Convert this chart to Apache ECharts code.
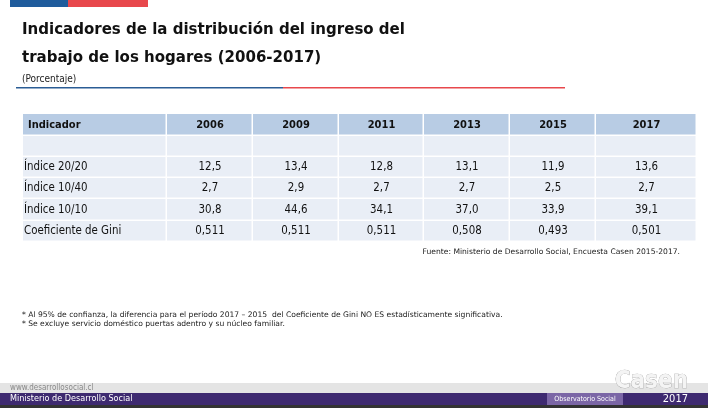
<!DOCTYPE html>
<html><head><meta charset="utf-8">
<script src="https://cdn.jsdelivr.net/npm/echarts@6/dist/echarts.min.js"></script>
<style>html,body{margin:0;padding:0;background:#fff}#c{width:708px;height:408px}</style>
</head><body><div id="c"></div>
<script>
var years = ['2006', '2009', '2011', '2013', '2015', '2017'];
var indicators = ['Índice 20/20', 'Índice 10/40', 'Índice 10/10', 'Coeficiente de Gini'];
var idx2020 = ['12,5', '13,4', '12,8', '13,1', '11,9', '13,6'];
var idx1040 = ['2,7', '2,9', '2,7', '2,7', '2,5', '2,7'];
var idx1010 = ['30,8', '44,6', '34,1', '37,0', '33,9', '39,1'];
var gini = ['0,511', '0,511', '0,511', '0,508', '0,493', '0,501'];
var rows = [idx2020, idx1040, idx1010, gini];

var chart = echarts.init(document.getElementById('c'));
var F = 'DejaVu Sans';
var FC = '"DejaVu Sans Condensed", "DejaVu Sans"';
var colX = [23, 167, 253, 339, 424, 510, 596, 697];
var g = [];

// top bars
g.push({type: 'rect', shape: {x: 10, y: 0, width: 58, height: 7}, style: {fill: '#1f5c9c'}});
g.push({type: 'rect', shape: {x: 68, y: 0, width: 80, height: 7}, style: {fill: '#e8484c'}});
g.push({type: 'text', left: 22, top: 21, style: {text: 'Indicadores de la distribución del ingreso del', font: 'bold 16.7px ' + FC, fill: '#111'}});
g.push({type: 'text', left: 22, top: 49, style: {text: 'trabajo de los hogares (2006-2017)', font: 'bold 16.7px ' + FC, fill: '#111'}});
g.push({type: 'text', left: 22, top: 74, style: {text: '(Porcentaje)', font: '10px ' + FC, fill: '#222'}});
g.push({type: 'rect', shape: {x: 16, y: 87, width: 267, height: 1.5}, style: {fill: '#2b5d95'}});
g.push({type: 'rect', shape: {x: 283, y: 87, width: 282, height: 1.5}, style: {fill: '#e8484c'}});

// table
function cell(x, y, w, h, fill) {
  g.push({type: 'rect', shape: {x: x, y: y, width: w - 1.5, height: h - 1.5}, style: {fill: fill}});
}
var rowY = [114, 136, 157, 178, 199, 221, 242];
for (var r = 0; r < 6; r++) {
  for (var c = 0; c < 7; c++) {
    cell(colX[c], rowY[r], colX[c + 1] - colX[c], rowY[r + 1] - rowY[r], r === 0 ? '#b8cce4' : '#e9eef6');
  }
}
g.push({type: 'text', x: 28, y: 125, style: {text: 'Indicador', font: 'bold 11px ' + FC, fill: '#111', verticalAlign: 'middle'}});
years.forEach(function (yr, i) {
  g.push({type: 'text', x: (colX[i + 1] + colX[i + 2]) / 2, y: 125, style: {text: yr, font: 'bold 11px ' + FC, fill: '#111', align: 'center', verticalAlign: 'middle'}});
});
indicators.forEach(function (name, j) {
  var cy = (rowY[j + 2] + rowY[j + 3]) / 2;
  g.push({type: 'text', x: 24, y: cy, style: {text: name, font: '11.4px ' + FC, fill: '#111', verticalAlign: 'middle'}});
  rows[j].forEach(function (v, i) {
    g.push({type: 'text', x: (colX[i + 1] + colX[i + 2]) / 2, y: cy, style: {text: v, font: '11.4px ' + FC, fill: '#111', align: 'center', verticalAlign: 'middle'}});
  });
});
g.push({type: 'text', x: 680, y: 252, style: {text: 'Fuente: Ministerio de Desarrollo Social, Encuesta Casen 2015-2017.', font: '7.6px ' + F, fill: '#222', align: 'right', verticalAlign: 'middle'}});
g.push({type: 'text', x: 22, y: 315, style: {text: '* Al 95% de confianza, la diferencia para el período 2017 – 2015  del Coeficiente de Gini NO ES estadísticamente significativa.', font: '7.6px ' + F, fill: '#222', verticalAlign: 'middle'}});
g.push({type: 'text', x: 22, y: 324, style: {text: '* Se excluye servicio doméstico puertas adentro y su núcleo familiar.', font: '7.6px ' + F, fill: '#222', verticalAlign: 'middle'}});

// footer
g.push({type: 'rect', shape: {x: 0, y: 383, width: 708, height: 10}, style: {fill: '#e4e4e4'}});
g.push({type: 'rect', shape: {x: 0, y: 393, width: 708, height: 12}, style: {fill: '#3e2a70'}});
g.push({type: 'rect', shape: {x: 0, y: 405, width: 708, height: 3}, style: {fill: '#333'}});
g.push({type: 'rect', shape: {x: 547, y: 393, width: 76, height: 12}, style: {fill: '#7b66a6'}});
g.push({type: 'text', x: 10, y: 388, style: {text: 'www.desarrollosocial.cl', font: '8px ' + FC, fill: '#888', verticalAlign: 'middle'}});
g.push({type: 'text', x: 10, y: 399, style: {text: 'Ministerio de Desarrollo Social', font: '9px ' + FC, fill: '#fff', verticalAlign: 'middle'}});
g.push({type: 'text', x: 585, y: 399, style: {text: 'Observatorio Social', font: '7px ' + FC, fill: '#fff', align: 'center', verticalAlign: 'middle'}});
g.push({type: 'text', x: 688, y: 382, style: {text: 'Casen', font: 'bold 24px ' + FC, fill: '#f4f4f4', stroke: '#999', lineWidth: 0.6, align: 'right', verticalAlign: 'middle'}});
g.push({type: 'text', x: 688, y: 399, style: {text: '2017', font: '11px ' + FC, fill: '#fff', align: 'right', verticalAlign: 'middle'}});

chart.setOption({backgroundColor: '#fff', graphic: g});
</script></body></html>
